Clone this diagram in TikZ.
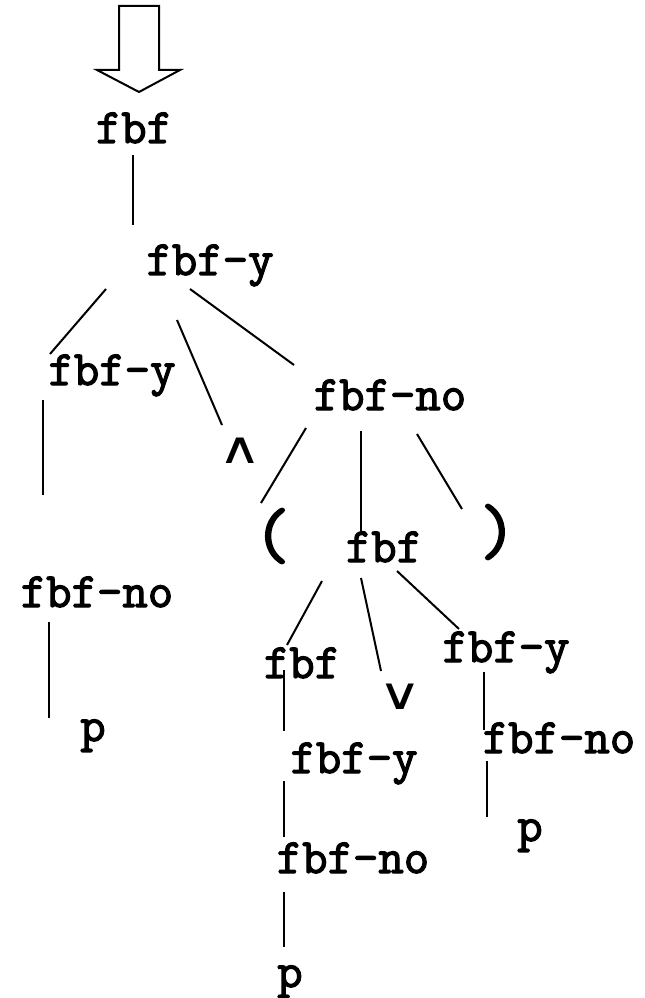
\documentclass[tikz,border=0pt]{standalone}
\usepackage{fontspec}
\newfontfamily\symfont{DejaVu Sans}
\newfontfamily\courfont[FakeBold=2.5]{Latin Modern Mono}
\begin{document}
\begin{tikzpicture}[x=0.75pt,y=-0.75pt,
  lbl/.style={anchor=base,inner sep=0pt,font=\courfont\fontsize{37}{37}\selectfont},
  sym/.style={inner sep=0pt,xscale=1.35,font=\symfont\fontsize{33}{33}\selectfont},
  par/.style={inner sep=0pt,font=\courfont\fontsize{53}{53}\selectfont},
  edge/.style={line width=1.5pt},
  thick edge/.style={line width=2.2pt}]
\useasboundingbox (0,0) rectangle (644,998);
% input arrow
\draw[line width=1.5pt,line join=miter] (119,6) -- (159,6) -- (159,70) -- (180,70) -- (139,92) -- (97,70) -- (119,70) -- cycle;
% nodes
\node[lbl] (n1) at (134,143) {fbf};
\node[lbl] (n2) at (210,275) {fbf-y};
\node[lbl] (n3) at (112,385) {fbf-y};
\node[sym] (and) at (240,451) {∧};
\node[lbl] (n4) at (390,410) {fbf-no};
\node[lbl] (n5) at (97,607) {fbf-no};
\node[lbl] (p1) at (93,741) {p};
\node[par] (lp) at (272,536) {(};
\node[par] (rp) at (498,532) {)};
\node[lbl] (n6) at (384,562) {fbf};
\node[lbl] (n7) at (302,678) {fbf};
\node[sym] (or) at (400,697) {∨};
\node[lbl] (n8) at (506,662) {fbf-y};
\node[lbl] (n9) at (354,773) {fbf-y};
\node[lbl] (n10) at (559,753) {fbf-no};
\node[lbl] (p2) at (530,841) {p};
\node[lbl] (n11) at (353,873) {fbf-no};
\node[lbl] (p3) at (290,987) {p};
% connector end points
\coordinate (a1) at (133,155); \coordinate (b1) at (133,225);
\coordinate (a2) at (106,289); \coordinate (b2) at (50,354);
\coordinate (a3) at (177,320); \coordinate (b3) at (222,425);
\coordinate (a4) at (190,289); \coordinate (b4) at (294,365);
\coordinate (a5) at (43,400);  \coordinate (b5) at (43,495);
\coordinate (a6) at (49,622);  \coordinate (b6) at (49,718);
\coordinate (a7) at (306,428); \coordinate (b7) at (261,503);
\coordinate (a8) at (361,431); \coordinate (b8) at (361,532);
\coordinate (a9) at (417,434); \coordinate (b9) at (462,509);
\coordinate (a10) at (322,581); \coordinate (b10) at (287,645);
\coordinate (a11) at (361,578); \coordinate (b11) at (381,671);
\coordinate (a12) at (397,571); \coordinate (b12) at (459,629);
\coordinate (a13) at (284,670); \coordinate (b13) at (284,731);
\coordinate (a14) at (284,781); \coordinate (b14) at (284,837);
\coordinate (a15) at (484,672); \coordinate (b15) at (484,730);
\coordinate (a16) at (487,761); \coordinate (b16) at (487,817);
\coordinate (a17) at (284,892); \coordinate (b17) at (284,947);
% connectors
\draw[edge] (a1) -- (b1);
\draw[edge] (a2) -- (b2);
\draw[edge] (a3) -- (b3);
\draw[edge] (a4) -- (b4);
\draw[thick edge] (a5) -- (b5);
\draw[edge] (a6) -- (b6);
\draw[edge] (a7) -- (b7);
\draw[thick edge] (a8) -- (b8);
\draw[edge] (a9) -- (b9);
\draw[edge] (a10) -- (b10);
\draw[edge] (a11) -- (b11);
\draw[edge] (a12) -- (b12);
\draw[edge] (a13) -- (b13);
\draw[edge] (a14) -- (b14);
\draw[edge] (a15) -- (b15);
\draw[edge] (a16) -- (b16);
\draw[edge] (a17) -- (b17);
\end{tikzpicture}
\end{document}
